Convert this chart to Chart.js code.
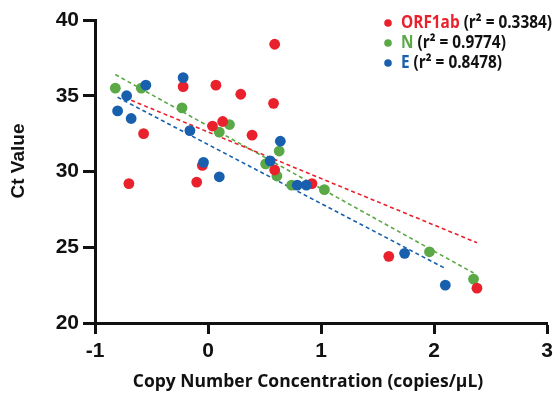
<!DOCTYPE html>
<html>
<head>
<meta charset="utf-8">
<script src="https://cdn.jsdelivr.net/npm/chart.js@4/dist/chart.umd.min.js"></script>
<style>
  html, body { margin: 0; padding: 0; background: #fff; }
  #wrap { position: relative; width: 558px; height: 401px; }
</style>
</head>
<body>
<div id="wrap"><canvas id="ctChart" width="558" height="401"></canvas></div>
<script>
// log10 copy number vs Ct
const orfX = [-0.70, -0.57, -0.22, 0.07, 0.29, 0.59, 0.58, 0.04, 0.13, 0.39, -0.05, -0.10, 0.59, 0.92, 1.60, 2.38];
const orfY = [29.2, 32.5, 35.6, 35.7, 35.1, 38.4, 34.5, 33.0, 33.3, 32.4, 30.4, 29.3, 30.1, 29.2, 24.4, 22.3];

const nX = [-0.82, -0.59, -0.23, 0.10, 0.19, 0.51, 0.61, 0.63, 0.74, 1.03, 1.96, 2.35];
const nY = [35.5, 35.5, 34.2, 32.6, 33.1, 30.5, 29.7, 31.35, 29.1, 28.8, 24.7, 22.9];

const eX = [-0.80, -0.72, -0.68, -0.55, -0.22, -0.16, -0.04, 0.10, 0.55, 0.64, 0.79, 0.87, 1.74, 2.10];
const eY = [34.0, 35.0, 33.5, 35.7, 36.2, 32.7, 30.6, 29.65, 30.7, 32.0, 29.1, 29.1, 24.6, 22.5];

// fitted lines (end points)
const orfFitX = [-0.68, 2.38];
const orfFitY = [34.7, 25.3];
const nFitX = [-0.82, 2.35];
const nFitY = [36.4, 23.3];
const eFitX = [-0.80, 2.10];
const eFitY = [34.9, 23.6];

const seriesNames = ['ORF1ab', 'N', 'E'];
const rSquared = ['0.3384', '0.9774', '0.8478'];

const xTicks = [-1, 0, 1, 2, 3];
const yTicks = [20, 25, 30, 35, 40];

const RED = '#e8212c';
const GREEN = '#5aa846';
const BLUE = '#1860ae';
const colors = [RED, GREEN, BLUE];

function pts(xs, ys) {
    return xs.map((x, i) => ({ x: x, y: ys[i] }));
}

function scatterSet(label, xs, ys, color, order) {
    return {
        type: 'scatter',
        label: label,
        data: pts(xs, ys),
        backgroundColor: color,
        borderColor: color,
        borderWidth: 0,
        pointRadius: 5.4,
        pointHoverRadius: 5.4,
        order: order
    };
}

function fitSet(label, xs, ys, color) {
    return {
        type: 'line',
        label: label,
        data: pts(xs, ys),
        borderColor: color,
        borderWidth: 1.6,
        borderDash: [4, 3],
        pointRadius: 0,
        fill: false,
        order: 5
    };
}

// legend with coloured gene name and black r² part
// the original uses a condensed face, so squeeze the text to the same width
const customLegend = {
    id: 'customLegend',
    afterDraw(chart) {
        const ctx = chart.ctx;
        ctx.save();
        ctx.font = 'bold 17.5px "Open Sans"';
        ctx.textBaseline = 'middle';
        const first = ctx.measureText(seriesNames[0] + ' (r\u00B2 = ' + rSquared[0] + ')').width;
        const k = 151 / first;
        seriesNames.forEach((name, i) => {
            const y = 23 + i * 20;
            ctx.fillStyle = colors[i];
            ctx.beginPath();
            ctx.arc(388, y, 3.8, 0, Math.PI * 2);
            ctx.fill();
            ctx.save();
            ctx.translate(401, y);
            ctx.scale(k, 1);
            ctx.fillText(name, 0, 0);
            const w = ctx.measureText(name + ' ').width;
            ctx.fillStyle = '#111';
            ctx.fillText('(r\u00B2 = ' + rSquared[i] + ')', w, 0);
            ctx.restore();
        });
        ctx.restore();
    }
};

// axis titles, placed like the original figure
const axisTitles = {
    id: 'axisTitles',
    afterDraw(chart) {
        const ctx = chart.ctx;
        ctx.save();
        ctx.fillStyle = '#111';
        ctx.textAlign = 'center';
        ctx.textBaseline = 'middle';
        ctx.font = 'bold 17.5px "Open Sans"';
        ctx.fillText('Copy Number Concentration (copies/\u00B5L)', 308, 382);
        ctx.translate(19, 161);
        ctx.rotate(-Math.PI / 2);
        ctx.font = 'bold 19px "Liberation Sans"';
        ctx.fillText('Ct Value', 0, 0);
        ctx.restore();
    }
};

new Chart(document.getElementById('ctChart'), {
    data: {
        datasets: [
            scatterSet('ORF1ab', orfX, orfY, RED, 1),
            scatterSet('N', nX, nY, GREEN, 2),
            scatterSet('E', eX, eY, BLUE, 0),
            fitSet('ORF1ab fit', orfFitX, orfFitY, RED),
            fitSet('N fit', nFitX, nFitY, GREEN),
            fitSet('E fit', eFitX, eFitY, BLUE)
        ]
    },
    options: {
        responsive: false,
        animation: false,
        events: [],
        layout: { padding: { top: 20, right: 11, left: 0, bottom: 0 } },
        plugins: {
            legend: { display: false },
            tooltip: { enabled: false }
        },
        scales: {
            x: {
                type: 'linear',
                min: -1,
                max: 3,
                afterFit: s => { s.height = 78; },
                afterBuildTicks: s => { s.ticks = xTicks.map(v => ({ value: v })); },
                border: { display: true, color: '#111', width: 3 },
                grid: { drawOnChartArea: false, drawTicks: true, tickLength: 11, tickWidth: 3, tickColor: '#111' },
                ticks: {
                    color: '#111',
                    padding: 5,
                    font: { family: '"Liberation Sans"', weight: 'bold', size: 21 }
                }
            },
            y: {
                type: 'linear',
                min: 20,
                max: 40,
                afterFit: s => { s.width = 95; },
                afterBuildTicks: s => { s.ticks = yTicks.map(v => ({ value: v })); },
                border: { display: true, color: '#111', width: 3 },
                grid: { drawOnChartArea: false, drawTicks: true, tickLength: 12, tickWidth: 3, tickColor: '#111' },
                ticks: {
                    color: '#111',
                    padding: 4,
                    font: { family: '"Liberation Sans"', weight: 'bold', size: 21 }
                }
            }
        }
    },
    plugins: [customLegend, axisTitles]
});
</script>
</body>
</html>
